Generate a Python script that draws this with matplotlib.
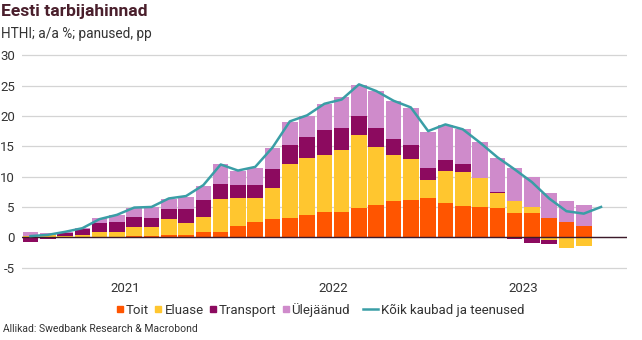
import numpy as np
import matplotlib
matplotlib.use("Agg")
import matplotlib.pyplot as plt
from matplotlib.lines import Line2D

plt.rcParams['font.family'] = ['Roboto', 'DejaVu Sans']
plt.rcParams['axes.unicode_minus'] = False

# kuud jaan 2021 - okt 2023
months = [f"{y}-{m:02d}" for y in (2021, 2022, 2023) for m in range(1, 13)][:34]

# panused, pp (tulbad kuni sept 2023)
toit = [0.05, 0.05, 0.1, 0.05, 0.05, 0.05, 0.2, 0.27, 0.4, 0.4, 0.9, 0.95,
        1.9, 2.55, 2.95, 3.1, 3.65, 4.1, 4.2, 4.8, 5.3, 6.0, 6.15, 6.5,
        5.7, 5.15, 5.05, 4.75, 4.05, 3.95, 3.25, 2.55, 1.9]
eluase = [0.2, 0.25, 0.15, 0.35, 0.75, 0.9, 1.55, 1.5, 2.55, 1.9, 2.5, 5.4,
          4.6, 3.95, 5.1, 8.95, 9.45, 9.45, 10.15, 12.1, 9.6, 7.5, 6.75, 3.0,
          5.25, 5.65, 4.75, 2.55, 2.0, 1.1, -0.4, -1.7, -1.35]
transport = [-0.7, -0.35, 0.45, 0.9, 1.55, 1.5, 1.65, 1.4, 1.7, 2.35, 2.75, 2.45,
             2.1, 2.2, 3.15, 3.15, 3.35, 4.1, 3.7, 3.15, 3.15, 2.7, 2.3, 1.95,
             1.75, 1.2, 0.05, 0.1, -0.35, -1.0, -0.75, -0.1, -0.15]
muud = [0.55, 0.35, 0.2, 0.2, 0.85, 1.15, 1.5, 1.75, 1.6, 2.05, 2.35, 3.2,
        2.4, 2.75, 3.55, 3.85, 3.55, 4.3, 5.0, 5.1, 6.05, 6.2, 6.15, 5.95,
        5.8, 5.85, 5.8, 5.7, 5.35, 4.85, 4.0, 3.45, 3.4]

# HTHI kokku, a/a %
kokku = [0.2, 0.4, 0.9, 1.5, 3.0, 3.7, 4.9, 5.0, 6.4, 6.8, 8.6, 12.0,
         11.0, 11.6, 14.8, 19.1, 20.1, 22.0, 22.7, 25.2, 24.1, 22.5, 21.4, 17.5,
         18.6, 17.8, 15.6, 13.2, 11.2, 9.1, 6.4, 4.3, 3.9, 5.0]

series = [("Toit", toit, "#ff5500"),
          ("Eluase", eluase, "#ffc62f"),
          ("Transport", transport, "#8c0a5f"),
          ("Ülejäänud", muud, "#cf8bcb")]
line_color = "#3a9ea6"
text_color = "#333333"

fig = plt.figure(figsize=(6.42, 3.40), dpi=100)
ax = fig.add_axes([0.034, 0.186, 0.9426, 0.6605])

x = np.arange(len(toit))
pos_bottom = np.zeros(len(x))
neg_bottom = np.zeros(len(x))
for name, vals, color in series:
    v = np.array(vals)
    bottom = np.where(v >= 0, pos_bottom, neg_bottom)
    ax.bar(x, v, bottom=bottom, width=0.9, color=color, linewidth=0, zorder=2)
    pos_bottom += np.where(v >= 0, v, 0)
    neg_bottom += np.where(v < 0, v, 0)

ax.axhline(0, color="#3d1a2a", lw=1.0, zorder=3)
ax.plot(np.arange(len(kokku)), kokku, color=line_color, lw=1.8, zorder=4)

ax.set_xlim(-0.5, 34.5)
ax.set_ylim(-6.5, 30.5)
ax.set_yticks(range(-5, 31, 5))
ax.grid(axis="y", color="#d4d4d4", lw=0.9, zorder=0)
ax.set_axisbelow(True)
for s in ax.spines.values():
    s.set_visible(False)

# aasta silt kuude keskele
years = sorted(set(m[:4] for m in months))
year_pos = [np.mean([i for i, m in enumerate(months) if m[:4] == y]) for y in years]
ax.set_xticks(year_pos)
ax.set_xticklabels(years)
ax.tick_params(axis="both", length=0, labelsize=9.5, colors=text_color)
ax.tick_params(axis="x", pad=4)
ax.tick_params(axis="y", pad=5)

fig.text(0.002, 0.988, "Eesti tarbijahinnad", fontsize=12.6, fontweight="bold",
         color="#4a1f2c", va="top", ha="left")
fig.text(0.002, 0.92, "HTHI; a/a %; panused, pp", fontsize=9.8, color=text_color,
         va="top", ha="left")

# legend: ruudud tulpadele, joon kokku-reale
box_handles = [Line2D([], [], marker="s", ls="none", color=c, markersize=4.2)
               for _, _, c in series]
fig.legend(box_handles, [n for n, _, _ in series], loc="center left",
           bbox_to_anchor=(0.182, 0.088), ncol=4, frameon=False, fontsize=9.5,
           handlelength=0.5, handletextpad=0.2, columnspacing=0.45,
           borderpad=0, borderaxespad=0, labelcolor=text_color)
fig.legend([Line2D([], [], color=line_color, lw=1.8)], ["Kõik kaubad ja teenused"],
           loc="center left", bbox_to_anchor=(0.566, 0.088), frameon=False,
           fontsize=9.5, handlelength=1.1, handletextpad=0.2,
           borderpad=0, borderaxespad=0, labelcolor=text_color)

fig.text(0.004, 0.032, "Allikad: Swedbank Research & Macrobond", fontsize=7.5,
         color=text_color, va="center", ha="left")

fig.savefig("out.png", dpi=100)
